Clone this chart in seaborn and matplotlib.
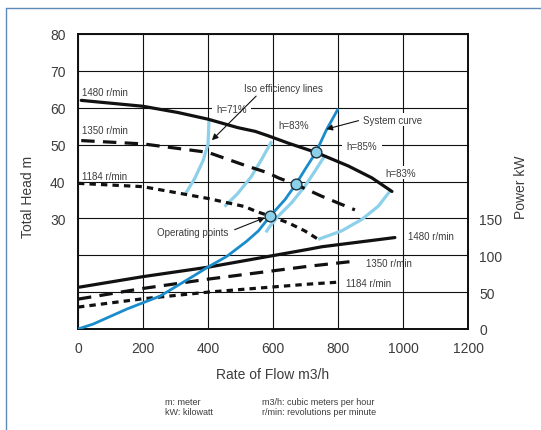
import matplotlib
matplotlib.use("Agg")
import matplotlib.pyplot as plt
from matplotlib.lines import Line2D
import seaborn as sns
import pandas as pd

# ---------------- data ----------------
x_ticks = [0, 200, 400, 600, 800, 1000, 1200]
head_ticks = [0, 10, 20, 30, 40, 50, 60, 70, 80]
head_tick_labels = ["", "", "", "30", "40", "50", "60", "70", "80"]
power_ticks = [0, 50, 100, 150]

# pump head curves (flow m3/h, head m)
h1480_q = [10, 200, 308, 400, 492, 545, 585, 647, 732, 832, 904, 966]
h1480_h = [62.0, 60.4, 58.7, 56.9, 54.6, 53.6, 52.4, 50.4, 47.9, 44.2, 41.0, 37.3]
h1350_q = [10, 200, 400, 513, 586, 616, 670, 750, 852]
h1350_h = [51.1, 50.2, 47.9, 44.4, 42.3, 41.0, 39.2, 36.0, 32.3]
h1184_q = [0, 200, 400, 513, 545, 591, 647, 698, 745]
h1184_h = [39.5, 38.6, 35.4, 33.2, 32.0, 30.6, 28.8, 26.6, 24.0]

# power curves (flow m3/h, kW)
p1480_q = [5, 200, 400, 708, 750, 975]
p1480_kw = [56.8, 71.0, 83.8, 108.0, 111.5, 124.0]
p1350_q = [0, 200, 400, 708, 852]
p1350_kw = [40.5, 55.0, 67.6, 85.0, 92.0]
p1184_q = [0, 200, 400, 708, 800]
p1184_kw = [29.7, 41.0, 50.0, 60.8, 63.5]

# system curve
sys_q = [0, 47, 150, 252, 354, 400, 458, 519, 555, 591, 637, 670, 698, 732, 765, 799]
sys_h = [0, 1.35, 5.4, 8.9, 14.3, 16.8, 19.7, 23.8, 26.6, 30.6, 35.1, 39.2, 43.2, 47.9, 54.1, 59.5]

# iso efficiency lines
iso71_q = [403, 400, 385, 359, 328]
iso71_h = [56.4, 50.2, 45.7, 40.8, 36.3]
iso83a_q = [596, 565, 533, 492, 451]
iso83a_h = [50.9, 46.0, 41.3, 36.8, 33.2]
iso85_q = [758, 729, 698, 657, 616, 591, 578]
iso85_h = [46.8, 42.8, 38.7, 34.2, 30.6, 27.9, 26.2]
iso83b_q = [960, 924, 873, 811, 739]
iso83b_h = [37.4, 33.3, 29.7, 26.6, 24.3]

# operating points
op_q = [591, 670, 732]
op_h = [30.6, 39.2, 47.9]

# ---------------- style ----------------
sns.set_theme(style="white")
plt.rcParams["font.family"] = ["Liberation Sans", "DejaVu Sans"]
TXT = "#3c3c3c"
BLACK = "#111111"
BLUE = "#1a8ccc"
LBLUE = "#8dd0e9"

fig = plt.figure(figsize=(5.41, 4.31), dpi=100)
ax = fig.add_axes([78 / 541, 1 - 330 / 431, 390 / 541, 295 / 431])
ax2 = ax.twinx()

def line(axis, q, v, **kw):
    df = pd.DataFrame({"q": q, "v": v})
    sns.lineplot(data=df, x="q", y="v", ax=axis, sort=False, estimator=None,
                 legend=False, solid_joinstyle="round", dash_joinstyle="round", **kw)

# iso efficiency lines (below)
for q, h in [(iso71_q, iso71_h), (iso83a_q, iso83a_h), (iso85_q, iso85_h), (iso83b_q, iso83b_h)]:
    line(ax, q, h, color=LBLUE, lw=2.3, zorder=3, solid_capstyle="butt")

# head curves
line(ax, h1480_q, h1480_h, color=BLACK, lw=2.3, zorder=4)
line(ax, h1350_q, h1350_h, color=BLACK, lw=2.3, zorder=4, dashes=(4.2, 2.6))
line(ax, h1184_q, h1184_h, color=BLACK, lw=2.3, zorder=4, dashes=(2.0, 1.6))

# system curve
line(ax, sys_q, sys_h, color=BLUE, lw=2.0, zorder=5)

# operating points
sns.scatterplot(x=op_q, y=op_h, ax=ax, s=60, color=LBLUE, edgecolor="#1c3440",
                linewidth=1.0, zorder=6, legend=False)

# power curves on right axis
line(ax2, p1480_q, p1480_kw, color=BLACK, lw=2.3, zorder=4)
line(ax2, p1350_q, p1350_kw, color=BLACK, lw=2.3, zorder=4, dashes=(4.2, 2.6))
line(ax2, p1184_q, p1184_kw, color=BLACK, lw=2.3, zorder=4, dashes=(2.0, 1.6))

# axes limits / ticks
ax.set_xlim(0, 1200)
ax.set_ylim(0, 80)
ax2.set_ylim(0, 400)
ax.set_xticks(x_ticks)
ax.set_xticklabels([str(t) for t in x_ticks], fontsize=10, color=TXT)
ax.set_yticks(head_ticks)
ax.set_yticklabels(head_tick_labels, fontsize=10, color=TXT)
ax2.set_yticks(power_ticks)
ax2.set_yticklabels([str(t) for t in power_ticks], fontsize=10, color=TXT)
ax.tick_params(axis="both", length=0, pad=9)
ax2.tick_params(axis="y", length=0, pad=8)
ax.grid(True, color=BLACK, lw=0.8)
ax.set_axisbelow(True)
ax2.grid(False)
for a in (ax, ax2):
    for s in a.spines.values():
        s.set_color(BLACK)
        s.set_linewidth(1.3)
ax.set_zorder(2)
ax2.set_zorder(1)
ax.patch.set_visible(False)
ax2.patch.set_facecolor("white")

ax.set_xlabel("Rate of Flow m3/h", fontsize=10, color=TXT, labelpad=8)
ax.set_ylabel("")
ax2.set_ylabel("")
fig.text(28 / 541, 1 - 197 / 431, "Total Head m", rotation=90, fontsize=10,
         color=TXT, ha="center", va="center")
fig.text(521 / 541, 1 - 187 / 431, "Power kW", rotation=90, fontsize=10,
         color=TXT, ha="center", va="center")

# text annotations
bb = dict(boxstyle="square,pad=0.15", fc="white", ec="none")
fs = 7
ax.text(12, 64.3, "1480 r/min", fontsize=fs, color=TXT, va="center", ha="left", zorder=7)
ax.text(12, 54.0, "1350 r/min", fontsize=fs, color=TXT, va="center", ha="left", zorder=7)
ax.text(12, 41.4, "1184 r/min", fontsize=fs, color=TXT, va="center", ha="left", zorder=7)

ax.text(472, 59.6, "h=71%", fontsize=fs, color=TXT, ha="center", va="center",
        bbox=dict(boxstyle="square,pad=0.4", fc="white", ec="none"), zorder=7)
ax.text(665, 55.4, "h=83%", fontsize=fs, color=TXT, ha="center", va="center", bbox=bb, zorder=7)
ax.text(874, 49.7, "h=85%", fontsize=fs, color=TXT, ha="center", va="center",
        bbox=dict(boxstyle="square,pad=0.5", fc="white", ec="none"), zorder=7)
ax.text(994, 42.4, "h=83%", fontsize=fs, color=TXT, ha="center", va="center", bbox=bb, zorder=7)

ax.annotate("Iso efficiency lines", xy=(412, 51.2), xytext=(631, 65.4),
            fontsize=fs, color=TXT, ha="center", va="center", zorder=7,
            arrowprops=dict(arrowstyle="-|>", color=BLACK, lw=0.8, mutation_scale=9,
                            shrinkA=0, shrinkB=0, relpos=(0.2, 0.0)))
ax.annotate("System curve", xy=(764, 54.2), xytext=(876, 56.8),
            fontsize=fs, color=TXT, ha="left", va="center", zorder=7, bbox=bb,
            arrowprops=dict(arrowstyle="-|>", color=BLACK, lw=0.8, mutation_scale=9,
                            shrinkA=2, shrinkB=0, relpos=(0.0, 0.5)))
ax.annotate("Operating points", xy=(575, 30.2), xytext=(464, 26.3),
            fontsize=fs, color=TXT, ha="right", va="center", zorder=7,
            arrowprops=dict(arrowstyle="-|>", color=BLACK, lw=0.8, mutation_scale=9,
                            shrinkA=2, shrinkB=0, relpos=(1.0, 0.5)))

ax2.text(1015, 125.7, "1480 r/min", fontsize=fs, color=TXT, ha="left", va="center", bbox=bb, zorder=7)
ax2.text(886, 89.0, "1350 r/min", fontsize=fs, color=TXT, ha="left", va="center", bbox=bb, zorder=7)
ax2.text(825, 62.0, "1184 r/min", fontsize=fs, color=TXT, ha="left", va="center", bbox=bb, zorder=7)

# footnotes
fig.text(165 / 541, 1 - 403 / 431, "m: meter", fontsize=6.5, color=TXT, va="center")
fig.text(165 / 541, 1 - 413 / 431, "kW: kilowatt", fontsize=6.5, color=TXT, va="center")
fig.text(262 / 541, 1 - 403 / 431, "m3/h: cubic meters per hour", fontsize=6.5, color=TXT, va="center")
fig.text(262 / 541, 1 - 413 / 431, "r/min: revolutions per minute", fontsize=6.5, color=TXT, va="center")

# outer frame (top and left edges)
fig.add_artist(Line2D([6 / 541, 1], [1 - 9 / 431, 1 - 9 / 431], color="#5d89bb", lw=1.0))
fig.add_artist(Line2D([6 / 541, 6 / 541], [0, 1 - 9 / 431], color="#5d89bb", lw=1.0))

fig.savefig("out.png", dpi=100, facecolor="white")
